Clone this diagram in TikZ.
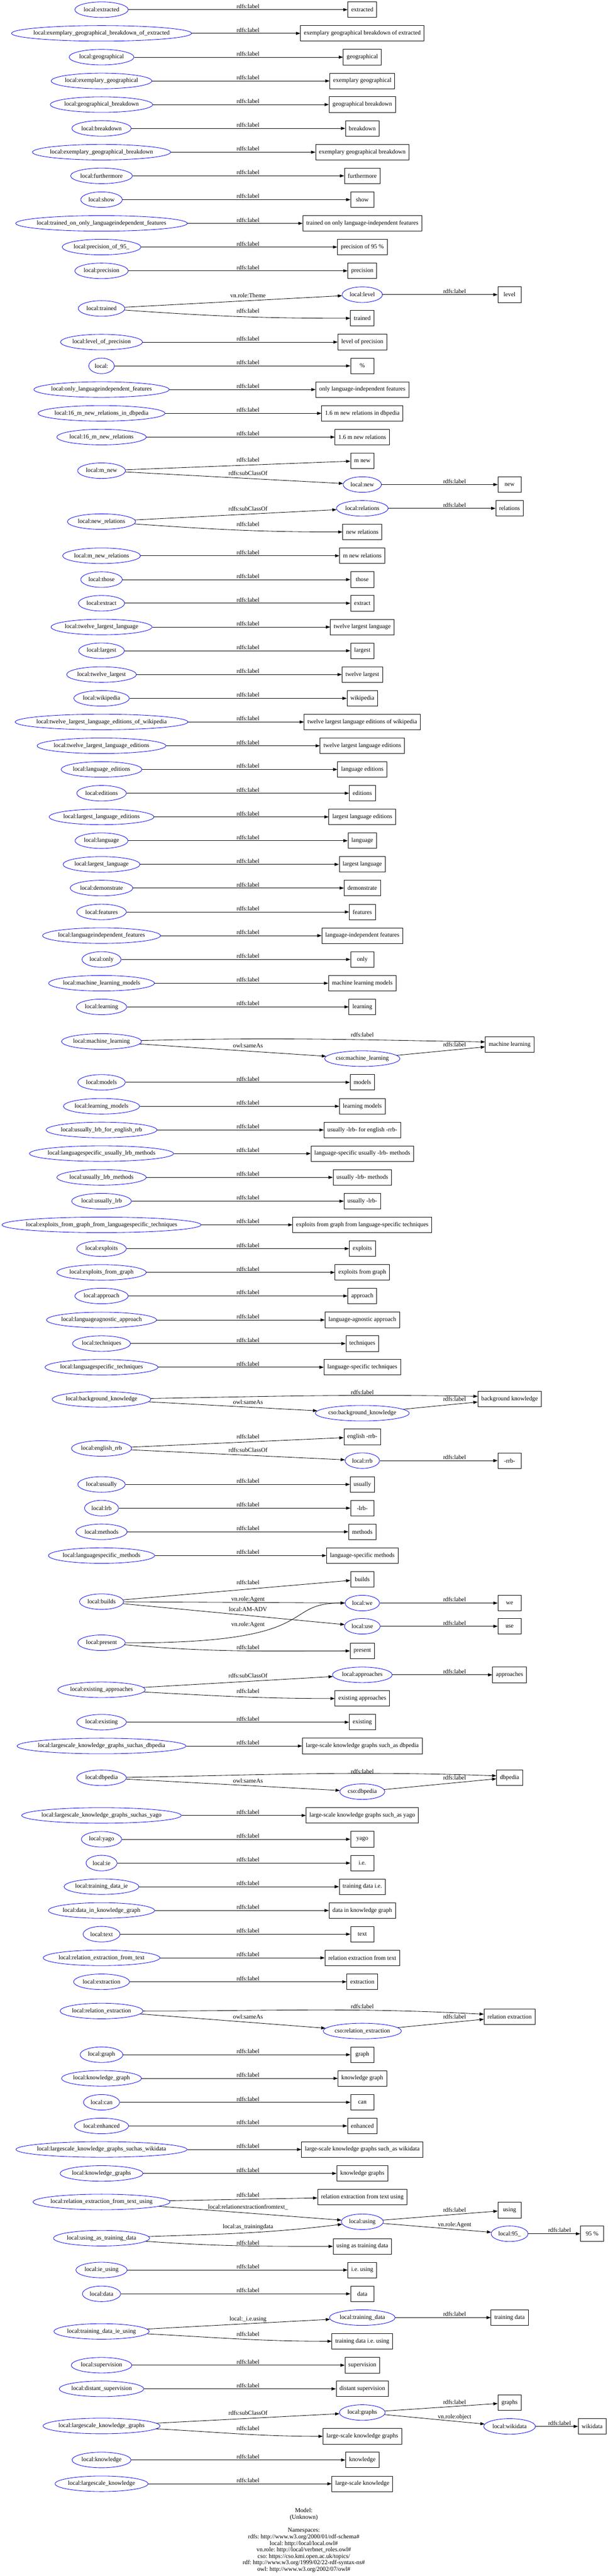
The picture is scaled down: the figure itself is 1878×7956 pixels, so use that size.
\documentclass[tikz,border=0pt]{standalone}
\usepackage{fontspec}
\setmainfont{Liberation Serif}
\usepackage{tikz}
\usetikzlibrary{arrows.meta}
\usetikzlibrary{shapes.geometric}
\catcode`\_=12

\begin{document}
\begin{tikzpicture}[x=0.75pt, y=-0.75pt,
    res/.style={ellipse, draw=blue, line width=1pt, inner xsep=-50pt, inner ysep=0pt,
      minimum height=36pt, minimum width={max(54,1.259*(width("#1")+15.84))},
      node contents={#1}},
    lit/.style={rectangle, draw=black, line width=1pt, inner xsep=7.92pt, inner ysep=0pt,
      minimum width=54pt, minimum height=36pt},
    rel/.style={-{Triangle[length=10pt,width=7pt]}, line width=1pt},
    lbl/.style={anchor=base, inner sep=0pt}]
\fontsize{14}{16.8}\selectfont\frenchspacing
\useasboundingbox (0,0) rectangle (1878,7956);

\node (extracted) at (313.8,29.9) [res=local:extracted];
\node[lit] (extracted-t) at (1119.8,29.9) {extracted};
\draw[rel] (extracted) -- (extracted-t) node[lbl] at (766.5,29.9-4) {rdfs:label};

\node (egboe) at (313.8,103.0) [res=local:exemplary_geographical_breakdown_of_extracted];
\node[lit] (egboe-t) at (1119.8,103.0) {exemplary geographical breakdown of extracted};
\draw[rel] (egboe) -- (egboe-t) node[lbl] at (766.5,103.0-4) {rdfs:label};

\node (geographical) at (313.8,176.5) [res=local:geographical];
\node[lit] (geographical-t) at (1119.8,176.5) {geographical};
\draw[rel] (geographical) -- (geographical-t) node[lbl] at (766.5,176.5-4) {rdfs:label};

\node (exgeo) at (313.8,250.0) [res=local:exemplary_geographical];
\node[lit] (exgeo-t) at (1119.8,250.0) {exemplary geographical};
\draw[rel] (exgeo) -- (exgeo-t) node[lbl] at (766.5,250.0-4) {rdfs:label};

\node (geobreak) at (313.8,323.0) [res=local:geographical_breakdown];
\node[lit] (geobreak-t) at (1119.8,323.0) {geographical breakdown};
\draw[rel] (geobreak) -- (geobreak-t) node[lbl] at (766.5,323.0-4) {rdfs:label};

\node (breakdown) at (313.8,396.5) [res=local:breakdown];
\node[lit] (breakdown-t) at (1119.8,396.5) {breakdown};
\draw[rel] (breakdown) -- (breakdown-t) node[lbl] at (766.5,396.5-4) {rdfs:label};

\node (exgeobreak) at (313.8,470.0) [res=local:exemplary_geographical_breakdown];
\node[lit] (exgeobreak-t) at (1119.8,470.0) {exemplary geographical breakdown};
\draw[rel] (exgeobreak) -- (exgeobreak-t) node[lbl] at (766.5,470.0-4) {rdfs:label};

\node (furthermore) at (313.8,543.1) [res=local:furthermore];
\node[lit] (furthermore-t) at (1119.8,543.1) {furthermore};
\draw[rel] (furthermore) -- (furthermore-t) node[lbl] at (766.5,543.1-4) {rdfs:label};

\node (show) at (313.8,616.6) [res=local:show];
\node[lit] (show-t) at (1119.8,616.6) {show};
\draw[rel] (show) -- (show-t) node[lbl] at (766.5,616.6-4) {rdfs:label};

\node (trainedonly) at (313.8,689.9) [res=local:trained_on_only_languageindependent_features];
\node[lit] (trainedonly-t) at (1119.8,689.9) {trained on only language-independent features};
\draw[rel] (trainedonly) -- (trainedonly-t) node[lbl] at (766.5,689.9-4) {rdfs:label};

\node (prec95) at (313.8,763.0) [res=local:precision_of_95_];
\node[lit] (prec95-t) at (1119.8,763.0) {precision of 95 \%};
\draw[rel] (prec95) -- (prec95-t) node[lbl] at (766.5,763.0-4) {rdfs:label};

\node (precision) at (313.8,836.5) [res=local:precision];
\node[lit] (precision-t) at (1119.8,836.5) {precision};
\draw[rel] (precision) -- (precision-t) node[lbl] at (766.5,836.5-4) {rdfs:label};

\node (trained) at (313.8,952.7) [res=local:trained];
\node (level) at (1119.8,910.0) [res=local:level];
\node[lit] (level-t) at (1575,910.0) {level};
\node[lit] (trained-t) at (1119.8,983.0) {trained};
\draw[rel] (trained) -- (level) node[lbl] at (766.5,918.4) {vn.role:Theme};
\draw[rel] (trained) to[out=-4,in=180] (trained-t) node[lbl] at (766.5,966.7) {rdfs:label};
\draw[rel] (level) -- (level-t) node[lbl] at (1405,906.4) {rdfs:label};

\node (levelprec) at (313.8,1056.5) [res=local:level_of_precision];
\node[lit] (levelprec-t) at (1119.8,1056.5) {level of precision};
\draw[rel] (levelprec) -- (levelprec-t) node[lbl] at (766.5,1056.5-4) {rdfs:label};

\node (pct) at (313.8,1130.0) [res=local:];
\node[lit] (pct-t) at (1119.8,1130.0) {\%};
\draw[rel] (pct) -- (pct-t) node[lbl] at (766.5,1130.0-4) {rdfs:label};

\node (onlyfeat) at (313.8,1203.1) [res=local:only_languageindependent_features];
\node[lit] (onlyfeat-t) at (1119.8,1203.1) {only language-independent features};
\draw[rel] (onlyfeat) -- (onlyfeat-t) node[lbl] at (766.5,1203.1-4) {rdfs:label};

\node (nrdbpedia) at (313.8,1276.6) [res=local:16_m_new_relations_in_dbpedia];
\node[lit] (nrdbpedia-t) at (1119.8,1276.6) {1.6 m new relations in dbpedia};
\draw[rel] (nrdbpedia) -- (nrdbpedia-t) node[lbl] at (766.5,1276.6-4) {rdfs:label};

\node (nr16) at (313.8,1349.9) [res=local:16_m_new_relations];
\node[lit] (nr16-t) at (1119.8,1349.9) {1.6 m new relations};
\draw[rel] (nr16) -- (nr16-t) node[lbl] at (766.5,1349.9-4) {rdfs:label};

\node (mnew) at (313.8,1453.7) [res=local:m_new];
\node[lit] (mnew-t) at (1119.8,1423.0) {m new};
\node (new) at (1119.8,1496.5) [res=local:new];
\node[lit] (new-t) at (1575,1496.5) {new};
\draw[rel] (mnew) -- (mnew-t) node[lbl] at (766.5,1427.1) {rdfs:label};
\draw[rel] (mnew) -- (new) node[lbl] at (766.5,1468.6) {rdfs:subClassOf};
\draw[rel] (new) -- (new-t) node[lbl] at (1405,1492.9) {rdfs:label};

\node (newrel) at (313.8,1611.0) [res=local:new_relations];
\node (relations) at (1119.8,1570.0) [res=local:relations];
\node[lit] (relations-t) at (1575,1570.0) {relations};
\node[lit] (newrel-t) at (1119.8,1643.0) {new relations};
\draw[rel] (newrel) -- (relations) node[lbl] at (766.5,1577.6) {rdfs:subClassOf};
\draw[rel] (newrel) to[out=-4,in=180] (newrel-t) node[lbl] at (766.5,1625.8) {rdfs:label};
\draw[rel] (relations) -- (relations-t) node[lbl] at (1405,1566.4) {rdfs:label};

\node (mnewrel) at (313.8,1716.5) [res=local:m_new_relations];
\node[lit] (mnewrel-t) at (1119.8,1716.5) {m new relations};
\draw[rel] (mnewrel) -- (mnewrel-t) node[lbl] at (766.5,1716.5-4) {rdfs:label};

\node (those) at (313.8,1790.0) [res=local:those];
\node[lit] (those-t) at (1119.8,1790.0) {those};
\draw[rel] (those) -- (those-t) node[lbl] at (766.5,1790.0-4) {rdfs:label};

\node (extract) at (313.8,1863.1) [res=local:extract];
\node[lit] (extract-t) at (1119.8,1863.1) {extract};
\draw[rel] (extract) -- (extract-t) node[lbl] at (766.5,1863.1-4) {rdfs:label};

\node (twelvelang) at (313.8,1936.6) [res=local:twelve_largest_language];
\node[lit] (twelvelang-t) at (1119.8,1936.6) {twelve largest language};
\draw[rel] (twelvelang) -- (twelvelang-t) node[lbl] at (766.5,1936.6-4) {rdfs:label};

\node (largest) at (313.8,2009.8) [res=local:largest];
\node[lit] (largest-t) at (1119.8,2009.8) {largest};
\draw[rel] (largest) -- (largest-t) node[lbl] at (766.5,2009.8-4) {rdfs:label};

\node (twelvelargest) at (313.8,2083.3) [res=local:twelve_largest];
\node[lit] (twelvelargest-t) at (1119.8,2083.3) {twelve largest};
\draw[rel] (twelvelargest) -- (twelvelargest-t) node[lbl] at (766.5,2083.3-4) {rdfs:label};

\node (wikipedia) at (313.8,2156.8) [res=local:wikipedia];
\node[lit] (wikipedia-t) at (1119.8,2156.8) {wikipedia};
\draw[rel] (wikipedia) -- (wikipedia-t) node[lbl] at (766.5,2156.8-4) {rdfs:label};

\node (tlleow) at (313.8,2229.8) [res=local:twelve_largest_language_editions_of_wikipedia];
\node[lit] (tlleow-t) at (1119.8,2229.8) {twelve largest language editions of wikipedia};
\draw[rel] (tlleow) -- (tlleow-t) node[lbl] at (766.5,2229.8-4) {rdfs:label};

\node (tlle) at (313.8,2303.3) [res=local:twelve_largest_language_editions];
\node[lit] (tlle-t) at (1119.8,2303.3) {twelve largest language editions};
\draw[rel] (tlle) -- (tlle-t) node[lbl] at (766.5,2303.3-4) {rdfs:label};

\node (langed) at (313.8,2376.4) [res=local:language_editions];
\node[lit] (langed-t) at (1119.8,2376.4) {language editions};
\draw[rel] (langed) -- (langed-t) node[lbl] at (766.5,2376.4-4) {rdfs:label};

\node (editions) at (313.8,2449.9) [res=local:editions];
\node[lit] (editions-t) at (1119.8,2449.9) {editions};
\draw[rel] (editions) -- (editions-t) node[lbl] at (766.5,2449.9-4) {rdfs:label};

\node (lle) at (313.8,2523.0) [res=local:largest_language_editions];
\node[lit] (lle-t) at (1119.8,2523.0) {largest language editions};
\draw[rel] (lle) -- (lle-t) node[lbl] at (766.5,2523.0-4) {rdfs:label};

\node (language) at (313.8,2596.5) [res=local:language];
\node[lit] (language-t) at (1119.8,2596.5) {language};
\draw[rel] (language) -- (language-t) node[lbl] at (766.5,2596.5-4) {rdfs:label};

\node (largestlang) at (313.8,2669.7) [res=local:largest_language];
\node[lit] (largestlang-t) at (1119.8,2669.7) {largest language};
\draw[rel] (largestlang) -- (largestlang-t) node[lbl] at (766.5,2669.7-4) {rdfs:label};

\node (demonstrate) at (313.8,2742.7) [res=local:demonstrate];
\node[lit] (demonstrate-t) at (1119.8,2742.7) {demonstrate};
\draw[rel] (demonstrate) -- (demonstrate-t) node[lbl] at (766.5,2742.7-4) {rdfs:label};

\node (features) at (313.8,2816.6) [res=local:features];
\node[lit] (features-t) at (1119.8,2816.6) {features};
\draw[rel] (features) -- (features-t) node[lbl] at (766.5,2816.6-4) {rdfs:label};

\node (lif) at (313.8,2889.7) [res=local:languageindependent_features];
\node[lit] (lif-t) at (1119.8,2889.7) {language-independent features};
\draw[rel] (lif) -- (lif-t) node[lbl] at (766.5,2889.7-4) {rdfs:label};

\node (only) at (313.8,2963.2) [res=local:only];
\node[lit] (only-t) at (1119.8,2963.2) {only};
\draw[rel] (only) -- (only-t) node[lbl] at (766.5,2963.2-4) {rdfs:label};

\node (mlmodels) at (313.8,3036.7) [res=local:machine_learning_models];
\node[lit] (mlmodels-t) at (1119.8,3036.7) {machine learning models};
\draw[rel] (mlmodels) -- (mlmodels-t) node[lbl] at (766.5,3036.7-4) {rdfs:label};

\node (learning) at (313.8,3109.8) [res=local:learning];
\node[lit] (learning-t) at (1119.8,3109.8) {learning};
\draw[rel] (learning) -- (learning-t) node[lbl] at (766.5,3109.8-4) {rdfs:label};

\node (ml) at (313.8,3216.6) [res=local:machine_learning];
\node (cso-ml) at (1119.8,3269.6) [res=cso:machine_learning];
\node[lit] (ml-t) at (1575,3226.0) {machine learning};
\draw[rel] (ml) to[out=1.5,in=179] ([yshift=6pt]ml-t.west) node[lbl] at (1119.8,3202.4) {rdfs:label};
\draw[rel] (ml) -- (cso-ml) node[lbl] at (766.5,3235.3) {owl:sameAs};
\draw[rel] (cso-ml) -- (ml-t) node[lbl] at (1405,3233.2) {rdfs:label};

\node (models) at (313.8,3342.8) [res=local:models];
\node[lit] (models-t) at (1119.8,3342.8) {models};
\draw[rel] (models) -- (models-t) node[lbl] at (766.5,3342.8-4) {rdfs:label};

\node (lmodels) at (313.8,3416.7) [res=local:learning_models];
\node[lit] (lmodels-t) at (1119.8,3416.7) {learning models};
\draw[rel] (lmodels) -- (lmodels-t) node[lbl] at (766.5,3416.7-4) {rdfs:label};

\node (ulfer) at (313.8,3489.8) [res=local:usually_lrb_for_english_rrb];
\node[lit] (ulfer-t) at (1119.8,3489.8) {usually -lrb- for english -rrb-};
\draw[rel] (ulfer) -- (ulfer-t) node[lbl] at (766.5,3489.8-4) {rdfs:label};

\node (lsulm) at (313.8,3562.8) [res=local:languagespecific_usually_lrb_methods];
\node[lit] (lsulm-t) at (1119.8,3562.8) {language-specific usually -lrb- methods};
\draw[rel] (lsulm) -- (lsulm-t) node[lbl] at (766.5,3562.8-4) {rdfs:label};

\node (ulm) at (313.8,3636.3) [res=local:usually_lrb_methods];
\node[lit] (ulm-t) at (1119.8,3636.3) {usually -lrb- methods};
\draw[rel] (ulm) -- (ulm-t) node[lbl] at (766.5,3636.3-4) {rdfs:label};

\node (ul) at (313.8,3709.8) [res=local:usually_lrb];
\node[lit] (ul-t) at (1119.8,3709.8) {usually -lrb-};
\draw[rel] (ul) -- (ul-t) node[lbl] at (766.5,3709.8-4) {rdfs:label};

\node (efgflt) at (313.8,3782.9) [res=local:exploits_from_graph_from_languagespecific_techniques];
\node[lit] (efgflt-t) at (1119.8,3782.9) {exploits from graph from language-specific techniques};
\draw[rel] (efgflt) -- (efgflt-t) node[lbl] at (766.5,3782.9-4) {rdfs:label};

\node (exploits) at (313.8,3856.4) [res=local:exploits];
\node[lit] (exploits-t) at (1119.8,3856.4) {exploits};
\draw[rel] (exploits) -- (exploits-t) node[lbl] at (766.5,3856.4-4) {rdfs:label};

\node (efg) at (313.8,3929.9) [res=local:exploits_from_graph];
\node[lit] (efg-t) at (1119.8,3929.9) {exploits from graph};
\draw[rel] (efg) -- (efg-t) node[lbl] at (766.5,3929.9-4) {rdfs:label};

\node (approach) at (313.8,4002.6) [res=local:approach];
\node[lit] (approach-t) at (1119.8,4002.6) {approach};
\draw[rel] (approach) -- (approach-t) node[lbl] at (766.5,4002.6-4) {rdfs:label};

\node (laa) at (313.8,4076.6) [res=local:languageagnostic_approach];
\node[lit] (laa-t) at (1119.8,4076.6) {language-agnostic approach};
\draw[rel] (laa) -- (laa-t) node[lbl] at (766.5,4076.6-4) {rdfs:label};

\node (techniques) at (313.8,4149.6) [res=local:techniques];
\node[lit] (techniques-t) at (1119.8,4149.6) {techniques};
\draw[rel] (techniques) -- (techniques-t) node[lbl] at (766.5,4149.6-4) {rdfs:label};

\node (lst) at (313.8,4222.7) [res=local:languagespecific_techniques];
\node[lit] (lst-t) at (1119.8,4222.7) {language-specific techniques};
\draw[rel] (lst) -- (lst-t) node[lbl] at (766.5,4222.7-4) {rdfs:label};

\node (bk) at (313.8,4321.8) [res=local:background_knowledge];
\node (cso-bk) at (1119.8,4364.6) [res=cso:background_knowledge];
\node[lit] (bk-t) at (1575,4320.6) {background knowledge};
\draw[rel] (bk) to[out=1,in=179] ([yshift=6pt]bk-t.west) node[lbl] at (1119.8,4306.8) {rdfs:label};
\draw[rel] (bk) -- (cso-bk) node[lbl] at (766.5,4337.5) {owl:sameAs};
\draw[rel] (cso-bk) -- (bk-t) node[lbl] at (1405,4327.3) {rdfs:label};

\node (enrrb) at (313.8,4473.5) [res=local:english_rrb];
\node[lit] (enrrb-t) at (1119.8,4437.6) {english -rrb-};
\node (rrb) at (1119.8,4511.1) [res=local:rrb];
\node[lit] (rrb-t) at (1575,4511.1) {-rrb-};
\draw[rel] (enrrb) -- (enrrb-t) node[lbl] at (766.5,4442.6) {rdfs:label};
\draw[rel] (enrrb) -- (rrb) node[lbl] at (766.5,4485.4) {rdfs:subClassOf};
\draw[rel] (rrb) -- (rrb-t) node[lbl] at (1405,4507.2) {rdfs:label};

\node (usually) at (313.8,4584.6) [res=local:usually];
\node[lit] (usually-t) at (1119.8,4584.6) {usually};
\draw[rel] (usually) -- (usually-t) node[lbl] at (766.5,4584.6-4) {rdfs:label};

\node (lrb) at (313.8,4657.8) [res=local:lrb];
\node[lit] (lrb-t) at (1119.8,4657.8) {-lrb-};
\draw[rel] (lrb) -- (lrb-t) node[lbl] at (766.5,4657.8-4) {rdfs:label};

\node (methods) at (313.8,4730.9) [res=local:methods];
\node[lit] (methods-t) at (1119.8,4730.9) {methods};
\draw[rel] (methods) -- (methods-t) node[lbl] at (766.5,4730.9-4) {rdfs:label};

\node (lsm) at (313.8,4804.4) [res=local:languagespecific_methods];
\node[lit] (lsm-t) at (1119.8,4804.4) {language-specific methods};
\draw[rel] (lsm) -- (lsm-t) node[lbl] at (766.5,4804.4-4) {rdfs:label};

\node (builds) at (313.8,4946.7) [res=local:builds];
\node[lit] (builds-t) at (1119.8,4877.9) {builds};
\node (we) at (1119.8,4951.0) [res=local:we];
\node[lit] (we-t) at (1575,4951.0) {we};
\node (use) at (1119.8,5022.7) [res=local:use];
\node[lit] (use-t) at (1575,5022.7) {use};
\node (present) at (313.8,5073.6) [res=local:present];
\node[lit] (present-t) at (1119.8,5098.8) {present};
\draw[rel] (builds) -- (builds-t) node[lbl] at (766.5,4894.0) {rdfs:label};
\draw[rel] (builds) -- (we) node[lbl] at (766.5,4945.3) {vn.role:Agent};
\draw[rel] (builds) -- (use) node[lbl] at (766.5,4976.9) {local:AM-ADV};
\draw[rel] (present) .. controls (1010,5076) and (860,4951) .. (we) node[lbl] at (766.5,5022.2) {vn.role:Agent};
\draw[rel] (present) to[out=-5,in=180] (present-t) node[lbl] at (766.5,5094.0) {rdfs:label};
\draw[rel] (we) -- (we-t) node[lbl] at (1405,4946.1) {rdfs:label};
\draw[rel] (use) -- (use-t) node[lbl] at (1405,5018.8) {rdfs:label};

\node (exapp) at (313.8,5218.9) [res=local:existing_approaches];
\node (approaches) at (1119.8,5172.7) [res=local:approaches];
\node[lit] (approaches-t) at (1575,5172.7) {approaches};
\node[lit] (exapp-t) at (1119.8,5245.8) {existing approaches};
\draw[rel] (exapp) -- (approaches) node[lbl] at (766.5,5182.0) {rdfs:subClassOf};
\draw[rel] (exapp) to[out=-3,in=180] (exapp-t) node[lbl] at (766.5,5229.0) {rdfs:label};
\draw[rel] (approaches) -- (approaches-t) node[lbl] at (1405,5169.2) {rdfs:label};

\node (existing) at (313.8,5319.0) [res=local:existing];
\node[lit] (existing-t) at (1119.8,5319.0) {existing};
\draw[rel] (existing) -- (existing-t) node[lbl] at (766.5,5319.0-4) {rdfs:label};

\node (lkgdbp) at (313.8,5392.5) [res=local:largescale_knowledge_graphs_suchas_dbpedia];
\node[lit] (lkgdbp-t) at (1119.8,5392.5) {large-scale knowledge graphs such_as dbpedia};
\draw[rel] (lkgdbp) -- (lkgdbp-t) node[lbl] at (766.5,5392.5-4) {rdfs:label};

\node (dbpedia) at (313.8,5490.7) [res=local:dbpedia];
\node (cso-dbpedia) at (1119.8,5533.5) [res=cso:dbpedia];
\node[lit] (dbpedia-t) at (1575,5489.9) {dbpedia};
\draw[rel] (dbpedia) to[out=1,in=178] ([yshift=4pt]dbpedia-t.west) node[lbl] at (1119.8,5477.0) {rdfs:label};
\draw[rel] (dbpedia) -- (cso-dbpedia) node[lbl] at (766.5,5506.4) {owl:sameAs};
\draw[rel] (cso-dbpedia) -- (dbpedia-t) node[lbl] at (1405,5497.0) {rdfs:label};

\node (lkgyago) at (313.8,5607.0) [res=local:largescale_knowledge_graphs_suchas_yago];
\node[lit] (lkgyago-t) at (1119.8,5607.0) {large-scale knowledge graphs such_as yago};
\draw[rel] (lkgyago) -- (lkgyago-t) node[lbl] at (766.5,5607.0-4) {rdfs:label};

\node (yago) at (313.8,5680.5) [res=local:yago];
\node[lit] (yago-t) at (1119.8,5680.5) {yago};
\draw[rel] (yago) -- (yago-t) node[lbl] at (766.5,5680.5-4) {rdfs:label};

\node (ie) at (313.8,5754.0) [res=local:ie];
\node[lit] (ie-t) at (1119.8,5754.0) {i.e.};
\draw[rel] (ie) -- (ie-t) node[lbl] at (766.5,5754.0-4) {rdfs:label};

\node (tdie) at (313.8,5827.0) [res=local:training_data_ie];
\node[lit] (tdie-t) at (1119.8,5827.0) {training data i.e.};
\draw[rel] (tdie) -- (tdie-t) node[lbl] at (766.5,5827.0-4) {rdfs:label};

\node (dikg) at (313.8,5900.5) [res=local:data_in_knowledge_graph];
\node[lit] (dikg-t) at (1119.8,5900.5) {data in knowledge graph};
\draw[rel] (dikg) -- (dikg-t) node[lbl] at (766.5,5900.5-4) {rdfs:label};

\node (textw) at (313.8,5973.6) [res=local:text];
\node[lit] (textw-t) at (1119.8,5973.6) {text};
\draw[rel] (textw) -- (textw-t) node[lbl] at (766.5,5973.6-4) {rdfs:label};

\node (reft) at (313.8,6046.8) [res=local:relation_extraction_from_text];
\node[lit] (reft-t) at (1119.8,6046.8) {relation extraction from text};
\draw[rel] (reft) -- (reft-t) node[lbl] at (766.5,6046.8-4) {rdfs:label};

\node (extraction) at (313.8,6120.7) [res=local:extraction];
\node[lit] (extraction-t) at (1119.8,6120.7) {extraction};
\draw[rel] (extraction) -- (extraction-t) node[lbl] at (766.5,6120.7-4) {rdfs:label};

\node (relex) at (313.8,6210.9) [res=local:relation_extraction];
\node (cso-relex) at (1119.8,6272.8) [res=cso:relation_extraction];
\node[lit] (relex-t) at (1575,6228.8) {relation extraction};
\draw[rel] (relex) to[out=0,in=177] ([yshift=6pt]relex-t.west) node[lbl] at (1119.8,6202.6) {rdfs:label};
\draw[rel] (relex) -- (cso-relex) node[lbl] at (766.5,6235.1) {owl:sameAs};
\draw[rel] (cso-relex) -- (relex-t) node[lbl] at (1405,6235.1) {rdfs:label};

\node (graph) at (313.8,6345.9) [res=local:graph];
\node[lit] (graph-t) at (1119.8,6345.9) {graph};
\draw[rel] (graph) -- (graph-t) node[lbl] at (766.5,6345.9-4) {rdfs:label};

\node (kgraph) at (313.8,6419.0) [res=local:knowledge_graph];
\node[lit] (kgraph-t) at (1119.8,6419.0) {knowledge graph};
\draw[rel] (kgraph) -- (kgraph-t) node[lbl] at (766.5,6419.0-4) {rdfs:label};

\node (can) at (313.8,6492.9) [res=local:can];
\node[lit] (can-t) at (1119.8,6492.9) {can};
\draw[rel] (can) -- (can-t) node[lbl] at (766.5,6492.9-4) {rdfs:label};

\node (enhanced) at (313.8,6565.9) [res=local:enhanced];
\node[lit] (enhanced-t) at (1119.8,6565.9) {enhanced};
\draw[rel] (enhanced) -- (enhanced-t) node[lbl] at (766.5,6565.9-4) {rdfs:label};

\node (lkgwd) at (313.8,6638.6) [res=local:largescale_knowledge_graphs_suchas_wikidata];
\node[lit] (lkgwd-t) at (1119.8,6638.6) {large-scale knowledge graphs such_as wikidata};
\draw[rel] (lkgwd) -- (lkgwd-t) node[lbl] at (766.5,6638.6-4) {rdfs:label};

\node (kgraphs) at (313.8,6712.6) [res=local:knowledge_graphs];
\node[lit] (kgraphs-t) at (1119.8,6712.6) {knowledge graphs};
\draw[rel] (kgraphs) -- (kgraphs-t) node[lbl] at (766.5,6712.6-4) {rdfs:label};

\node (reftu) at (313.8,6800.7) [res=local:relation_extraction_from_text_using];
\node[lit] (reftu-t) at (1119.8,6785.7) {relation extraction from text using};
\node (using) at (1119.8,6861.8) [res=local:using];
\node[lit] (using-t) at (1575,6825.9) {using};
\node (n95) at (1575,6898.9) [res=local:95_];
\node[lit] (n95-t) at (1830,6898.9) {95 \%};
\node (uatd) at (313.8,6912.6) [res=local:using_as_training_data];
\node[lit] (uatd-t) at (1119.8,6937.8) {using as training data};
\draw[rel] (reftu) -- (reftu-t) node[lbl] at (766.5,6785.6) {rdfs:label};
\draw[rel] (reftu) -- (using) node[lbl] at (766.5,6822.8) {local:relationextractionfromtext_};
\draw[rel] (uatd) to[out=2,in=-173] (using) node[lbl] at (766.5,6882.2) {local:as_trainingdata};
\draw[rel] (uatd) to[out=-4,in=180] (uatd-t) node[lbl] at (766.5,6933.0) {rdfs:label};
\draw[rel] (using) -- (using-t) node[lbl] at (1405,6831.3) {rdfs:label};
\draw[rel] (using) -- (n95) node[lbl] at (1405,6877.0) {vn.role:Agent};
\draw[rel] (n95) -- (n95-t) node[lbl] at (1729.5,6894.1) {rdfs:label};

\node (ieusing) at (313.8,7010.9) [res=local:ie_using];
\node[lit] (ieusing-t) at (1119.8,7010.9) {i.e. using};
\draw[rel] (ieusing) -- (ieusing-t) node[lbl] at (766.5,7010.9-4) {rdfs:label};

\node (data) at (313.8,7084.4) [res=local:data];
\node[lit] (data-t) at (1119.8,7084.4) {data};
\draw[rel] (data) -- (data-t) node[lbl] at (766.5,7084.4-4) {rdfs:label};

\node (tdieu) at (313.8,7200.6) [res=local:training_data_ie_using];
\node (td) at (1119.8,7157.9) [res=local:training_data];
\node[lit] (td-t) at (1575,7157.9) {training data};
\node[lit] (tdieu-t) at (1119.8,7230.9) {training data i.e. using};
\draw[rel] (tdieu) -- (td) node[lbl] at (766.5,7166.7) {local:_i.e.using};
\draw[rel] (tdieu) to[out=-3,in=180] (tdieu-t) node[lbl] at (766.5,7214.6) {rdfs:label};
\draw[rel] (td) -- (td-t) node[lbl] at (1405,7153.9) {rdfs:label};

\node (supervision) at (313.8,7304.9) [res=local:supervision];
\node[lit] (supervision-t) at (1119.8,7304.9) {supervision};
\draw[rel] (supervision) -- (supervision-t) node[lbl] at (766.5,7304.9-4) {rdfs:label};

\node (dsup) at (313.8,7377.9) [res=local:distant_supervision];
\node[lit] (dsup-t) at (1119.8,7377.9) {distant supervision};
\draw[rel] (dsup) -- (dsup-t) node[lbl] at (766.5,7377.9-4) {rdfs:label};

\node (lkg) at (313.8,7492.6) [res=local:largescale_knowledge_graphs];
\node (graphs) at (1119.8,7451.0) [res=local:graphs];
\node[lit] (graphs-t) at (1575,7420.8) {graphs};
\node (wikidata) at (1575,7493.9) [res=local:wikidata];
\node[lit] (wikidata-t) at (1830,7493.9) {wikidata};
\node[lit] (lkg-t) at (1119.8,7524.5) {large-scale knowledge graphs};
\draw[rel] (lkg) -- (graphs) node[lbl] at (766.5,7459.0) {rdfs:subClassOf};
\draw[rel] (lkg) to[out=-3,in=180] (lkg-t) node[lbl] at (766.5,7506.6) {rdfs:label};
\draw[rel] (graphs) -- (graphs-t) node[lbl] at (1405,7424.6) {rdfs:label};
\draw[rel] (graphs) -- (wikidata) node[lbl] at (1405,7469.2) {vn.role:object};
\draw[rel] (wikidata) -- (wikidata-t) node[lbl] at (1729.5,7490.0) {rdfs:label};

\node (knowledge) at (313.8,7597.6) [res=local:knowledge];
\node[lit] (knowledge-t) at (1119.8,7597.6) {knowledge};
\draw[rel] (knowledge) -- (knowledge-t) node[lbl] at (766.5,7597.6-4) {rdfs:label};

\node (lsk) at (313.8,7671.1) [res=local:largescale_knowledge];
\node[lit] (lsk-t) at (1119.8,7671.1) {large-scale knowledge};
\draw[rel] (lsk) -- (lsk-t) node[lbl] at (766.5,7671.1-4) {rdfs:label};

\node[align=center, anchor=north, inner sep=0pt, font=\fontsize{14}{15.05}\selectfont] (legend) at (939,7746.4)
  {Model:\\(Unknown)\\[15.5pt]Namespaces:\\rdfs: http://www.w3.org/2000/01/rdf-schema\#\\local: http://local/local.owl\#\\vn.role: http://local/verbnet_roles.owl\#\\cso: https://cso.kmi.open.ac.uk/topics/\\rdf: http://www.w3.org/1999/02/22-rdf-syntax-ns\#\\owl: http://www.w3.org/2002/07/owl\#};

\end{tikzpicture}
\end{document}
